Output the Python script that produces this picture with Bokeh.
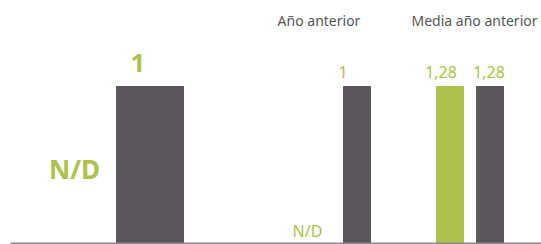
from bokeh.plotting import figure
from bokeh.models import Range1d, ColumnDataSource
from bokeh.core.properties import value
from bokeh.embed import file_html
from bokeh.resources import INLINE

# ---- data ----
groups = ["Actual", "Año anterior", "Media año anterior"]
green_values = [None, None, 1.28]   # None -> N/D
dark_values = [1, 1, 1.28]
green_labels = ["N/D", "N/D", "1,28"]
dark_labels = ["1", "1", "1,28"]
group_titles = ["", "Año anterior", "Media año anterior"]

GREEN = "#adc14b"
DARK = "#5b565b"
GREY_TXT = "#555555"

W, H = 541, 244
BASE = 1      # pixels below the baseline
BAR_PX = 157  # pixel height of the tallest bar of each group

p = figure(width=W, height=H, output_backend="svg", toolbar_location=None,
           x_range=Range1d(0, W), y_range=Range1d(-BASE, H - BASE),
           min_border=0, outline_line_color=None)
p.axis.visible = False
p.grid.visible = False

# layout: (green center, dark center, bar width) per group
layout = [(None, 149.5, 67), (None, 356.5, 27), (449.5, 489.5, 27)]
label_dx_green = [None, None, -9]
label_dx_dark = [-12, -14, -1]

for i, g in enumerate(groups):
    vals = [v for v in (green_values[i], dark_values[i]) if v is not None]
    m = max(vals)
    rname = f"g{i}"
    p.extra_y_ranges[rname] = Range1d(-BASE * m / BAR_PX, (H - BASE) * m / BAR_PX)
    gx, dx, bw = layout[i]
    big = i == 0
    # dark bar
    src = ColumnDataSource(dict(x=[dx], top=[dark_values[i]], lab=[dark_labels[i]]))
    p.vbar(x="x", top="top", bottom=0, width=bw, color=DARK, source=src, y_range_name=rname)
    p.text(x="x", y="top", text="lab", source=src, y_range_name=rname,
           text_align="center", text_baseline="alphabetic",
           x_offset=label_dx_dark[i], y_offset=-24 if big else -15,
           text_font=value("Noto Sans"), text_font_size="25px" if big else "16px",
           text_font_style="bold" if big else "normal", text_color=GREEN)
    # green bar
    if green_values[i] is not None:
        srcg = ColumnDataSource(dict(x=[gx], top=[green_values[i]], lab=[green_labels[i]]))
        p.vbar(x="x", top="top", bottom=0, width=bw, color=GREEN, source=srcg, y_range_name=rname)
        p.text(x="x", y="top", text="lab", source=srcg, y_range_name=rname,
               text_align="center", text_baseline="alphabetic",
               x_offset=label_dx_green[i], y_offset=-15,
               text_font=value("Noto Sans"), text_font_size="16px",
               text_color=GREEN)

# N/D labels for missing green values
p.text(x=[74], y=[75], text=[green_labels[0]], text_align="center", text_baseline="alphabetic",
       text_font=value("Noto Sans"), text_font_size="26px", text_font_style="bold",
       text_color=GREEN)
p.text(x=[307], y=[13], text=[green_labels[1]], text_align="center", text_baseline="alphabetic",
       text_font=value("Noto Sans"), text_font_size="16px", text_color=GREEN)

# group titles
p.text(x=[318.5, 474], y=[223, 223], text=group_titles[1:], text_align="center",
       text_baseline="alphabetic", text_font=value("Noto Sans"), text_font_size="14px",
       text_color=GREY_TXT)

# baseline
p.segment(x0=[10], y0=[0], x1=[W], y1=[0], line_color="#8a8a8a", line_width=2)

open("out.html", "w").write(file_html(p, INLINE))
